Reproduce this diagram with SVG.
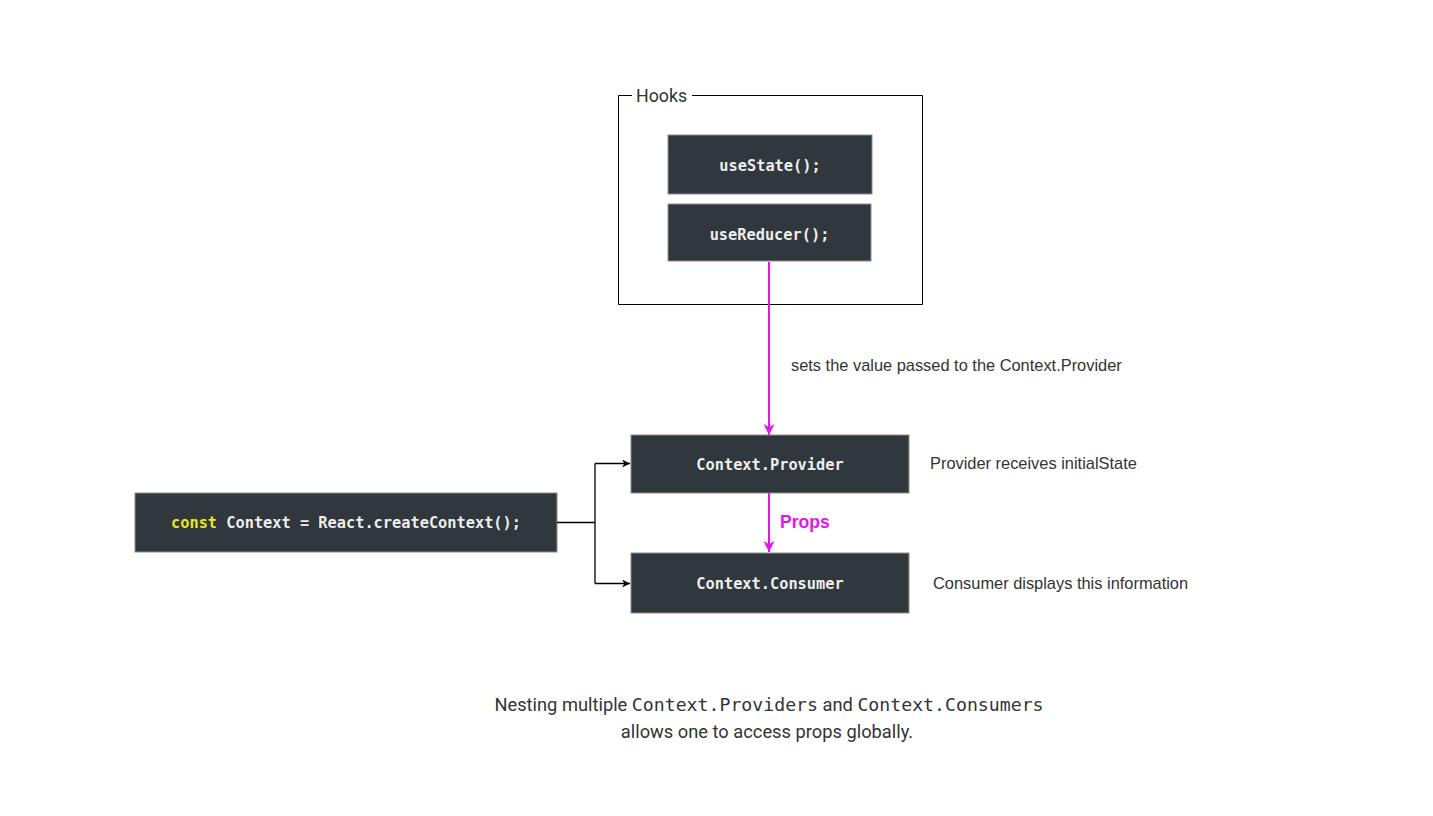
<svg xmlns="http://www.w3.org/2000/svg" width="1433" height="816" viewBox="0 0 1433 816">
<style>
.box{fill:#30373d;stroke:#8a8f94;stroke-width:1}
.code{font-family:"DejaVu Sans Mono","Liberation Mono",monospace;font-size:15.3px;font-weight:bold;fill:#eeeeee;text-anchor:middle;dominant-baseline:central}
.lbl{font-family:"Liberation Sans",Arial,sans-serif;font-size:16.4px;fill:#333333;dominant-baseline:central}
.note{font-family:Roboto,"Liberation Sans",sans-serif;font-size:18.3px;fill:#333333;text-anchor:middle}
.mono{font-family:"DejaVu Sans Mono","Liberation Mono",monospace;font-size:18.2px}
.blk{fill:none;stroke:#000;stroke-width:1.3}
.mag{fill:none;stroke:#e614e6;stroke-width:2}
</style>
<defs>
<marker id="ab" viewBox="0 0 10 10" refX="10" refY="5" markerWidth="8" markerHeight="8" markerUnits="userSpaceOnUse" orient="auto"><path d="M0,0 L10,5 L0,10 L3,5 z" fill="#000"/></marker>
<marker id="am" viewBox="0 0 10 10" refX="10" refY="5" markerWidth="11" markerHeight="11" markerUnits="userSpaceOnUse" orient="auto"><path d="M0,0 L10,5 L0,10 L3,5 z" fill="#e614e6"/></marker>
</defs>
<rect width="1433" height="816" fill="#ffffff"/>
<g id="hooks">
<path d="M632,95.5 H618.5 V304.5 H922.5 V95.5 H692" fill="none" stroke="#000" stroke-width="1"/>
<text x="636" y="95" font-family="Roboto,'Liberation Sans',sans-serif" font-size="17.8" fill="#333" dominant-baseline="central">Hooks</text>
</g>
<g id="useState">
<rect class="box" x="668" y="135" width="204" height="59"/>
<text class="code" x="770" y="166">useState();</text>
</g>
<g id="useReducer">
<rect class="box" x="668" y="204" width="203" height="57"/>
<text class="code" x="769.5" y="235">useReducer();</text>
</g>
<g id="provider">
<rect class="box" x="631" y="435" width="278" height="58"/>
<text class="code" x="770" y="465">Context.Provider</text>
</g>
<g id="consumer">
<rect class="box" x="631" y="553" width="278" height="60"/>
<text class="code" x="770" y="584">Context.Consumer</text>
</g>
<g id="createContext">
<rect class="box" x="135" y="493" width="422" height="59"/>
<text class="code" x="346" y="523"><tspan fill="#e8e81e">const</tspan> Context = React.createContext();</text>
</g>
<g id="connectors">
<path class="mag" d="M769,262 V435" marker-end="url(#am)"/>
<path class="mag" d="M769,493 V552" marker-end="url(#am)"/>
<path class="blk" d="M557,522.5 H595 M595,463.5 V583.5"/>
<path class="blk" d="M595,463.5 H630" marker-end="url(#ab)"/>
<path class="blk" d="M595,583.5 H630" marker-end="url(#ab)"/>
<text x="780" y="522" font-family="'Liberation Sans',Arial,sans-serif" font-size="17.6" font-weight="bold" fill="#e614e6" dominant-baseline="central">Props</text>
<text class="lbl" x="791" y="365">sets the value passed to the Context.Provider</text>
</g>
<g id="annotations">
<text class="lbl" x="930" y="463">Provider receives initialState</text>
<text class="lbl" x="933" y="583">Consumer displays this information</text>
<text class="note" x="769" y="711">Nesting multiple <tspan class="mono">Context.Providers</tspan> and <tspan class="mono">Context.Consumers</tspan></text>
<text class="note" x="767" y="738">allows one to access props globally.</text>
</g>
</svg>
